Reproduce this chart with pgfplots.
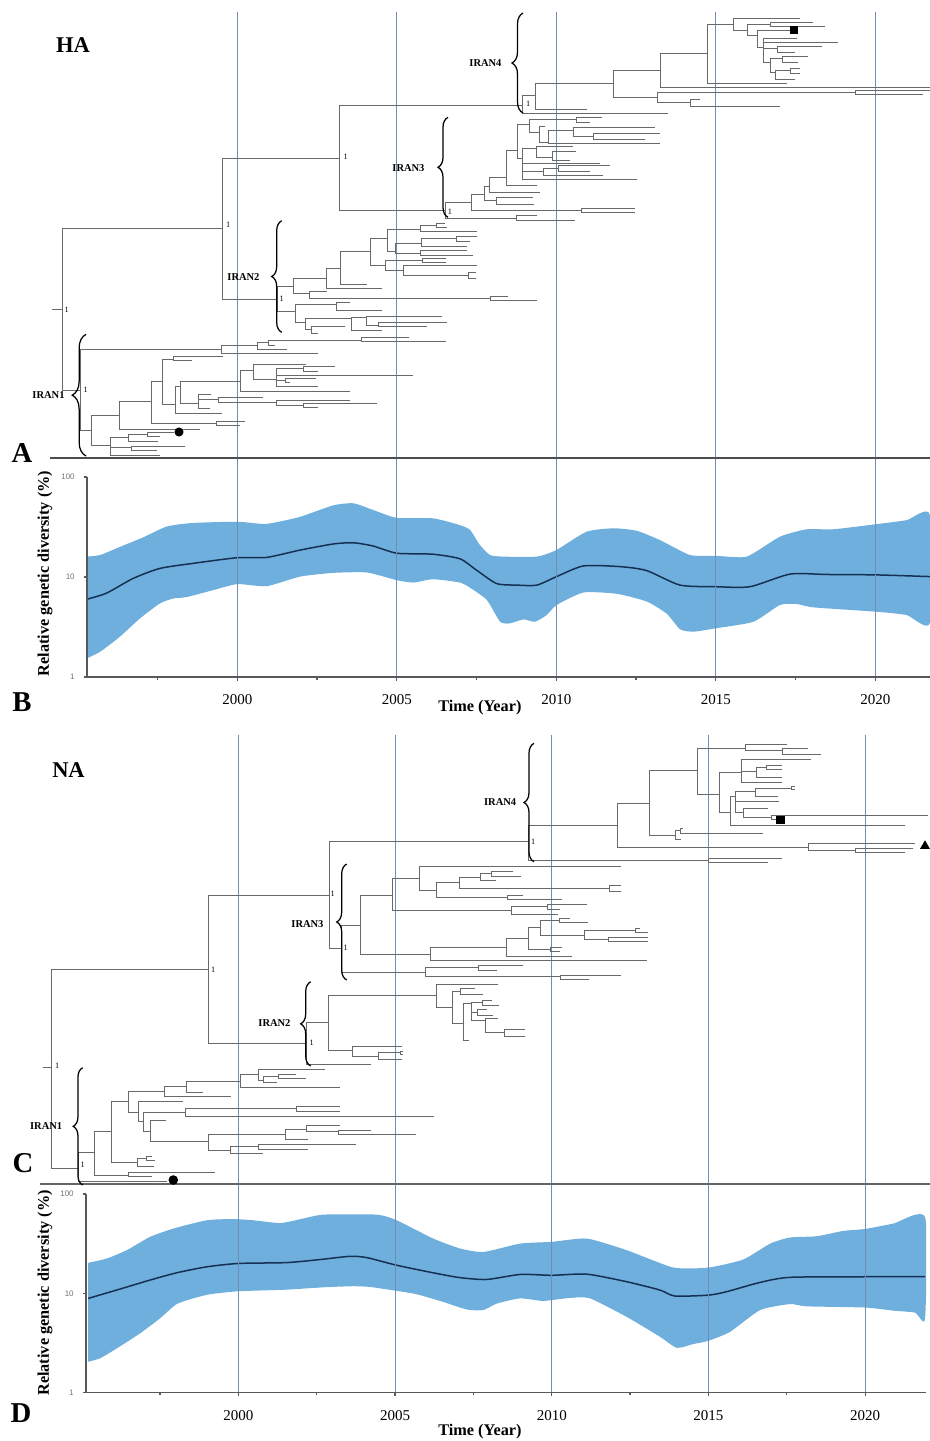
\documentclass[border=0pt]{standalone}
\usepackage{fontspec}
\setmainfont{Liberation Serif}
\newfontfamily\lsans{Liberation Sans}
\usepackage{pgfplots}
\pgfplotsset{compat=1.18}
\usetikzlibrary{decorations.pathreplacing}
\definecolor{gridc}{RGB}{112,142,180}
\definecolor{bandc}{RGB}{111,175,221}
\definecolor{meanc}{RGB}{22,48,84}
\definecolor{treec}{RGB}{105,105,105}
\newcommand{\fs}[1]{\fontsize{#1pt}{#1pt}\selectfont}
\tikzset{tr/.style={draw=treec, line width=0.3pt, mark=none},
  vg/.style={draw=gridc, line width=0.42pt, mark=none},
  br/.style={decorate, decoration={brace, amplitude=#1}, line width=0.5pt, draw=black},
  lab/.style={font=\bfseries\fs{4.2}, anchor=east, inner sep=0pt},
  one/.style={font=\fs{3.3}, inner sep=0pt},
  pan/.style={font=\bfseries\fs{11.5}, inner sep=0pt}}
\begin{document}
\begin{tikzpicture}
\path[use as bounding box] (0,0) rectangle (372pt,-576.4pt);

% ===================== TREE A =====================
\begin{axis}[at={(186pt,-92pt)}, anchor=center, scale only axis, width=372pt, height=184pt,
  xmin=0, xmax=930, ymin=0, ymax=460, y dir=reverse, hide axis, clip=false, unbounded coords=jump]
\addplot[vg] coordinates {(237.3,12)(237.3,477) (nan,nan) (396.8,12)(396.8,477) (nan,nan) (556.3,12)(556.3,477) (nan,nan) (715.8,12)(715.8,477) (nan,nan) (875.3,12)(875.3,477)};
\addplot[draw=black!70, line width=0.5pt, mark=none] coordinates {(50,458)(930,458)};
% backbone
\addplot[tr] coordinates {
(52,309)(62,309) (nan,nan)
(222,228)(62,228)(62,390)(80.7,390) (nan,nan)
(339,158)(222,158)(222,299)(277.3,299) (nan,nan)
(522,105)(339,105)(339,210)(445,210)
};
% IRAN4
\addplot[tr] coordinates {
(535,95)(522,95)(522,113)(668,113) (nan,nan)
(613,83)(535,83)(535,109)(587,109) (nan,nan)
(660,70)(613,70)(613,97)(657,97) (nan,nan)
(707,53)(660,53)(660,87)(930,87) (nan,nan)
(855,92)(657,92)(657,102)(690,102) (nan,nan)
(930,90)(855,90)(855,94)(923,94) (nan,nan)
(700,99)(690,99)(690,106)(780,106) (nan,nan)
(733,24)(707,24)(707,83)(787,83) (nan,nan)
(800,18)(733,18)(733,30)(747,30) (nan,nan)
(770,24)(747,24)(747,35)(757,35) (nan,nan)
(813,22)(770,22)(770,26)(825,26) (nan,nan)
(793,30)(757,30)(757,47)(763,47) (nan,nan)
(797,38)(763,38)(763,62)(770,62) (nan,nan)
(763,42)(838,42) (nan,nan)
(763,48)(777,48) (nan,nan)
(822,46)(777,46)(777,52)(795,52) (nan,nan)
(782,58)(770,58)(770,72)(775,72) (nan,nan)
(808,56)(782,56)(782,62)(798,62) (nan,nan)
(790,70)(775,70)(775,79)(795,79) (nan,nan)
(800,68)(790,68)(790,73)(800,73)
};
% IRAN3
\addplot[tr] coordinates {
(471.7,202)(445,202)(445,218.3)(516.7,218.3) (nan,nan)
(536.7,215)(516.7,215)(516.7,220)(575,220) (nan,nan)
(484,194)(471.7,194)(471.7,210)(581.7,210) (nan,nan)
(635,208)(581.7,208)(581.7,212.3)(635,212.3) (nan,nan)
(489.3,186)(484,186)(484,200)(496.7,200) (nan,nan)
(533,197)(496.7,197)(496.7,204)(534,204) (nan,nan)
(506,177)(489.3,177)(489.3,192.7)(540,192.7) (nan,nan)
(517,150)(506,150)(506,185)(536.7,185) (nan,nan)
(529.3,124)(517,124)(517,158)(522,158) (nan,nan)
(576,119)(529.3,119)(529.3,132)(539.3,132) (nan,nan)
(601.7,117)(576,117)(576,122)(590,122) (nan,nan)
(545,126)(539.3,126)(539.3,142)(548.3,142) (nan,nan)
(573,130)(548.3,130)(548.3,143.5)(660,143.5) (nan,nan)
(655,127)(573,127)(573,136)(593,136) (nan,nan)
(660,133.5)(593,133.5)(593,139)(645,139) (nan,nan)
(536.7,148)(522,148)(522,179)(636.7,179) (nan,nan)
(522,163)(600,163) (nan,nan)
(522,171)(543,171) (nan,nan)
(558,168)(543,168)(543,175)(603,175) (nan,nan)
(610,165.5)(558,165.5)(558,171)(590,171) (nan,nan)
(573,146)(536.7,146)(536.7,157)(552.7,157) (nan,nan)
(576,151)(552.7,151)(552.7,160)(570,160)
};
% IRAN2
\addplot[tr] coordinates {
(293.3,286.7)(277.3,286.7)(277.3,311.7)(295,311.7) (nan,nan)
(326,278.3)(293.3,278.3)(293.3,293.3)(309.3,293.3) (nan,nan)
(340,268.3)(326,268.3)(326,288.3)(381.7,288.3) (nan,nan)
(370.7,251.7)(340,251.7)(340,284)(366.7,284) (nan,nan)
(387.3,238.3)(370.7,238.3)(370.7,265)(385,265) (nan,nan)
(420,229)(387.3,229)(387.3,251.7)(395,251.7) (nan,nan)
(436,225)(420,225)(420,231.7)(476.7,231.7) (nan,nan)
(445,223)(436,223)(436,227)(447,227) (nan,nan)
(421.7,243.3)(395,243.3)(395,253.3)(420,253.3) (nan,nan)
(456.7,238)(421.7,238)(421.7,246.7)(466.7,246.7) (nan,nan)
(476.7,236)(456.7,236)(456.7,241)(470,241) (nan,nan)
(466.7,250)(420,250)(420,255)(473,255) (nan,nan)
(422.7,260)(385,260)(385,270)(403.3,270) (nan,nan)
(446,258)(422.7,258)(422.7,262.5)(446,262.5) (nan,nan)
(476.7,265.3)(403.3,265.3)(403.3,275)(468,275) (nan,nan)
(476,272)(468,272)(468,278)(476,278) (nan,nan)
(326.7,291.7)(309.3,291.7)(309.3,298.3)(490,298.3) (nan,nan)
(508,296)(490,296)(490,300.5)(536.7,300.5) (nan,nan)
(336.7,304)(295,304)(295,322)(305,322) (nan,nan)
(350,302.5)(336.7,302.5)(336.7,310.7)(381.7,310.7) (nan,nan)
(351.7,318)(305,318)(305,329)(311.7,329) (nan,nan)
(345,326)(311.7,326)(311.7,333.3)(318.3,333.3) (nan,nan)
(366.7,317)(351.7,317)(351.7,330)(381.7,330) (nan,nan)
(441.7,316.7)(366.7,316.7)(366.7,325)(378.3,325) (nan,nan)
(446.7,322.3)(378.3,322.3)(378.3,326)(426.7,326)
};
% IRAN1
\addplot[tr] coordinates {
(221.7,349)(80.7,349)(80.7,430)(91.7,430) (nan,nan)
(257.3,345)(221.7,345)(221.7,353.3)(318.3,353.3) (nan,nan)
(268.3,342.7)(257.3,342.7)(257.3,349.3)(286.7,349.3) (nan,nan)
(361.7,340)(268.3,340)(268.3,345)(275,345) (nan,nan)
(409.3,337.3)(361.7,337.3)(361.7,341.7)(446,341.7) (nan,nan)
(119.3,415)(91.7,415)(91.7,445)(110,445) (nan,nan)
(151.7,401.7)(119.3,401.7)(119.3,429)(200,429) (nan,nan)
(162.3,381.7)(151.7,381.7)(151.7,423.3)(216.7,423.3) (nan,nan)
(245,421)(216.7,421)(216.7,425.5)(240,425.5) (nan,nan)
(173.3,359.3)(162.3,359.3)(162.3,404)(175,404) (nan,nan)
(222.7,356.2)(173.3,356.2)(173.3,360.8)(191.7,360.8) (nan,nan)
(180,386)(175,386)(175,413.3)(221.7,413.3) (nan,nan)
(240,381.7)(180,381.7)(180,403.3)(198.3,403.3) (nan,nan)
(253.3,370.7)(240,370.7)(240,391.7)(350,391.7) (nan,nan)
(306,364.3)(253.3,364.3)(253.3,379)(276.7,379) (nan,nan)
(303,368.3)(276.7,368.3)(276.7,386.7)(318.3,386.7) (nan,nan)
(276.7,375.7)(413.3,375.7) (nan,nan)
(276.7,380.5)(285,380.5) (nan,nan)
(335,366)(303,366)(303,371)(318,371) (nan,nan)
(316,378.7)(285,378.7)(285,382.7)(290,382.7) (nan,nan)
(211,394)(198.3,394)(198.3,408.3)(210,408.3) (nan,nan)
(218.3,399)(198.3,399) (nan,nan)
(263.3,397)(218.3,397)(218.3,402)(276.7,402) (nan,nan)
(350,400)(276.7,400)(276.7,405)(303.3,405) (nan,nan)
(377.3,403)(303.3,403)(303.3,407.5)(318.3,407.5) (nan,nan)
(128.3,437)(110,437)(110,455)(160,455) (nan,nan)
(147,434)(128.3,434)(128.3,441)(158,441) (nan,nan)
(174,432)(147,432)(147,436)(160,436) (nan,nan)
(110,447)(131.7,447) (nan,nan)
(185,446.5)(131.7,446.5)(131.7,450.5)(156.7,450.5)
};
\addplot[only marks, mark=*, mark size=1.6pt, black] coordinates {(179,432)};
\addplot[only marks, mark=square*, mark size=1.3pt, black] coordinates {(794,30)};
\draw[br=4.4pt] (axis cs:523,113) -- (axis cs:523,13);
\draw[br=4pt] (axis cs:448,217.3) -- (axis cs:448,117.3);
\draw[br=4pt] (axis cs:281.7,332.3) -- (axis cs:281.7,220.7);
\draw[br=5.5pt] (axis cs:86,456) -- (axis cs:86,334.3);
\node[lab] at (axis cs:502,63) {IRAN4};
\node[lab] at (axis cs:425,168) {IRAN3};
\node[lab] at (axis cs:260,277) {IRAN2};
\node[lab] at (axis cs:65,395) {IRAN1};
\node[one] at (axis cs:66.7,310) {1};
\node[one] at (axis cs:228.3,225) {1};
\node[one] at (axis cs:345.7,156.7) {1};
\node[one] at (axis cs:450,211.7) {1};
\node[one] at (axis cs:528.3,104) {1};
\node[one] at (axis cs:281.7,299) {1};
\node[one] at (axis cs:85.7,390) {1};
\node[font=\bfseries\fs{9}, inner sep=0pt] at (axis cs:73,45) {HA};
\node[pan] at (axis cs:22,453) {A};
\node[pan] at (axis cs:22,702) {B};
\end{axis}

% ===================== SKYLINE B =====================
\begin{axis}[at={(203.4pt,-230.8pt)}, anchor=center, width=337.2pt, height=80pt,
  scale only axis, ymode=log, ymin=1, ymax=100,
  xmin=1995.288, xmax=2021.715,
  axis x line*=bottom, axis y line*=left, axis line style={black!65, line width=0.6pt},
  xtick={2000,2005,2010,2015,2020}, xticklabels={2000,2005,2010,2015,2020},
  minor xtick={1997.5,2002.5,2007.5,2012.5,2017.5},
  ytick={1,10,100}, yticklabels={1,10,100}, yminorticks=false,
  xmajorgrids, major grid style={draw=gridc, line width=0.42pt},
  tick style={black!65, line width=0.5pt}, major tick length=1.4pt, minor tick length=1.1pt,
  tick align=outside, axis on top,
  xticklabel style={font=\fs{6}, yshift=-2.2pt},
  yticklabel style={font=\lsans\fs{3.2}, text=black!55},
  xlabel={Time (Year)}, ylabel={Relative genetic diversity (\%)},
  xlabel style={font=\bfseries\fs{6.5}, at={(axis description cs:0.466,0)}, anchor=center, yshift=-12.2pt},
  ylabel style={font=\bfseries\fs{6.5}, at={(axis description cs:-0.0498,0.5175)}, anchor=center}]
\addplot[fill=bandc, draw=none, mark=none, smooth, tension=0.35] coordinates {
(1995.29,16.0)(1995.7,16.6)(1996.32,20)(1997.06,25)(1997.79,32)(1998.6,34.7)(2000.0,35.7)
(2000.92,34)(2001.97,40)(2003.0,52)(2003.64,54.6)(2004.26,46.8)(2005.0,39)(2006.14,38.6)
(2006.98,33)(2007.3,29.5)(2007.6,21)(2007.92,16.6)(2008.34,16)(2009.39,16)(2010.0,18.6)
(2010.95,28.4)(2011.79,30.7)(2012.52,29)(2013.25,23.4)(2014.19,16.6)(2015.0,16.3)
(2015.97,16)(2017.01,25.3)(2017.85,30)(2018.68,30)(2020.02,33.7)(2020.98,37)(2021.715,41.7)
(2021.715,3.5)(2020.98,4.17)(2020.02,4.5)(2018.06,4.97)(2017.54,5.37)(2017.01,5.25)(2016.18,3.57)
(2015.0,3.07)(2014.3,2.84)(2013.88,3.0)(2013.46,4.3)(2012.83,5.7)(2011.89,6.8)(2010.85,7.0)
(2010.01,5.25)(2009.7,4.17)(2009.33,3.57)(2008.97,3.77)(2008.55,3.44)(2008.24,3.57)(2007.82,5.9)
(2007.3,7.8)(2006.98,8.8)(2006.14,9.5)(2005.52,8.8)(2005.0,9.3)(2004.06,11.1)(2003.01,11.0)
(2001.97,10.1)(2000.92,8.1)(2000.0,8.5)(1999.25,7.4)(1998.41,6.3)(1998.0,6.1)(1997.58,5.46)
(1996.95,3.86)(1996.32,2.53)(1995.7,1.79)(1995.29,1.54)};
\addplot[meanc, line width=0.6pt, mark=none, smooth, tension=0.4] coordinates {
(1995.29,6.0)(1995.9,6.9)(1996.74,9.7)(1997.58,12.2)(1998.62,13.7)(2000.0,15.6)(2000.92,15.7)
(2001.97,18.6)(2003.01,21.4)(2003.64,22)(2004.26,20.4)(2005.0,17.3)(2006.14,16.9)(2006.98,15.2)
(2007.5,11.7)(2008.13,8.6)(2008.76,8.3)(2009.39,8.3)(2010.01,10.1)(2010.85,12.9)(2012.0,12.7)
(2012.83,11.6)(2013.88,8.3)(2015.0,8.0)(2016.07,8.0)(2017.33,10.7)(2018.48,10.6)(2020.02,10.5)
(2021.715,10.1)};
\end{axis}

% ===================== TREE C =====================
\begin{axis}[at={(186pt,-378pt)}, anchor=center, scale only axis, width=372pt, height=196pt,
  xmin=0, xmax=930, ymin=700, ymax=1190, y dir=reverse, hide axis, clip=false, unbounded coords=jump]
\addplot[vg] coordinates {(238.3,735)(238.3,1194) (nan,nan) (395.6,735)(395.6,1194) (nan,nan) (551.7,735)(551.7,1194) (nan,nan) (708.4,735)(708.4,1194) (nan,nan) (865.1,735)(865.1,1194)};
\addplot[draw=black!60, line width=0.5pt, mark=none] coordinates {(40,1184)(930,1184)};
% backbone
\addplot[tr] coordinates {
(42.7,1067.7)(51.7,1067.7) (nan,nan)
(208.3,969.3)(51.7,969.3)(51.7,1168.3)(78.3,1168.3) (nan,nan)
(329.3,895)(208.3,895)(208.3,1043.3)(306.7,1043.3) (nan,nan)
(528.3,841.7)(329.3,841.7)(329.3,948.3)(341.7,948.3)
};
% IRAN4
\addplot[tr] coordinates {
(617.7,825)(528.3,825)(528.3,860)(708.3,860) (nan,nan)
(781.7,858)(708.3,858)(708.3,862)(768.3,862) (nan,nan)
(649.3,803.3)(617.7,803.3)(617.7,847.3)(808.3,847.3) (nan,nan)
(915,843.3)(808.3,843.3)(808.3,850.7)(855,850.7) (nan,nan)
(913.3,848.5)(855,848.5)(855,852.5)(905,852.5) (nan,nan)
(697.3,770.7)(649.3,770.7)(649.3,835)(675,835) (nan,nan)
(680,830)(675,830)(675,839.3)(681,839.3) (nan,nan)
(683,828.5)(680,828.5)(680,833)(762.7,833) (nan,nan)
(745,748.3)(697.3,748.3)(697.3,794)(719.3,794) (nan,nan)
(786.7,744)(745,744)(745,750.7)(782.7,750.7) (nan,nan)
(808.3,748)(782.7,748)(782.7,754)(821,754) (nan,nan)
(741.7,772.7)(719.3,772.7)(719.3,812.7)(730.7,812.7) (nan,nan)
(810.7,759.3)(741.7,759.3)(741.7,782.7)(781.7,782.7) (nan,nan)
(741.7,771)(756.7,771) (nan,nan)
(766,767)(756.7,767)(756.7,777)(781.7,777) (nan,nan)
(781.7,765)(766,765)(766,769.5)(781.7,769.5) (nan,nan)
(735,796.7)(730.7,796.7)(730.7,825)(905,825) (nan,nan)
(755,791.7)(735,791.7)(735,812)(743.3,812) (nan,nan)
(791.7,788)(755,788)(755,796)(778.3,796) (nan,nan)
(795,786.5)(791.7,786.5)(791.7,789.5)(795,789.5) (nan,nan)
(735,801.5)(779.3,801.5) (nan,nan)
(768.3,808)(743.3,808)(743.3,817)(771.7,817) (nan,nan)
(928.3,815)(771.7,815)(771.7,819)(776,819)
};
% IRAN3
\addplot[tr] coordinates {
(360.7,925)(341.7,925)(341.7,972.7)(425,972.7) (nan,nan)
(478.3,967.7)(425,967.7)(425,976.7)(560.7,976.7) (nan,nan)
(523.3,965.7)(478.3,965.7)(478.3,970)(496.7,970) (nan,nan)
(620.7,975)(560.7,975)(560.7,979)(589.3,979) (nan,nan)
(392.3,895)(360.7,895)(360.7,954)(430,954) (nan,nan)
(419,878.3)(392.3,878.3)(392.3,910)(511.7,910) (nan,nan)
(620.7,866.7)(419,866.7)(419,890)(436.7,890) (nan,nan)
(459.3,882.3)(436.7,882.3)(436.7,897.3)(507.3,897.3) (nan,nan)
(480.7,877.7)(459.3,877.7)(459.3,888.3)(609.3,888.3) (nan,nan)
(491.7,873.3)(480.7,873.3)(480.7,880.7)(496,880.7) (nan,nan)
(513.3,871.3)(491.7,871.3)(491.7,876)(520.7,876) (nan,nan)
(620.7,885.5)(609.3,885.5)(609.3,891)(620.7,891) (nan,nan)
(523.3,895)(507.3,895)(507.3,899.5)(561.7,899.5) (nan,nan)
(547.3,906.7)(511.7,906.7)(511.7,914)(558.3,914) (nan,nan)
(586.7,904)(547.3,904)(547.3,909)(560,909) (nan,nan)
(506,947.3)(430,947.3)(430,960.7)(646.7,960.7) (nan,nan)
(528.3,938.3)(506,938.3)(506,956)(572.3,956) (nan,nan)
(540.7,927.3)(528.3,927.3)(528.3,949)(550.7,949) (nan,nan)
(561.7,947)(550.7,947)(550.7,951)(560,951) (nan,nan)
(559.3,920)(540.7,920)(540.7,935)(584,935) (nan,nan)
(570,918)(559.3,918)(559.3,922)(588.3,922) (nan,nan)
(635,930)(584,930)(584,939.3)(608.3,939.3) (nan,nan)
(640,928)(635,928)(635,932)(648.3,932) (nan,nan)
(648.3,937)(608.3,937)(608.3,941)(648.3,941)
};
% IRAN2
\addplot[tr] coordinates {
(328.3,1022.7)(306.7,1022.7)(306.7,1064)(370.7,1064) (nan,nan)
(436,995.7)(328.3,995.7)(328.3,1050.7)(352.7,1050.7) (nan,nan)
(498.3,984.3)(436,984.3)(436,1007.3)(452.3,1007.3) (nan,nan)
(460.7,991)(452.3,991)(452.3,1023.3)(463.3,1023.3) (nan,nan)
(475,988)(460.7,988)(460.7,994)(482.7,994) (nan,nan)
(471.7,1003)(463.3,1003)(463.3,1040.7)(469.3,1040.7) (nan,nan)
(482.3,1002.7)(471.7,1002.7)(471.7,1020)(485,1020) (nan,nan)
(491.7,1000)(482.3,1000)(482.3,1005)(499.3,1005) (nan,nan)
(471.7,1012)(477.3,1012) (nan,nan)
(486.7,1009.5)(477.3,1009.5)(477.3,1015)(493,1015) (nan,nan)
(498,1018)(485,1018)(485,1032.7)(504,1032.7) (nan,nan)
(525,1029)(504,1029)(504,1036)(525,1036) (nan,nan)
(402.3,1046)(352.7,1046)(352.7,1056)(378.3,1056) (nan,nan)
(400,1052.7)(378.3,1052.7)(378.3,1059)(402.3,1059) (nan,nan)
(403,1051)(400,1051)(400,1054.5)(403,1054.5)
};
% IRAN1
\addplot[tr] coordinates {
(94,1152.7)(78.3,1152.7)(78.3,1181.7)(166.7,1181.7) (nan,nan)
(111,1131.7)(94,1131.7)(94,1175)(128.3,1175) (nan,nan)
(215,1172.3)(128.3,1172.3)(128.3,1176.7)(151.7,1176.7) (nan,nan)
(128.3,1101.7)(111,1101.7)(111,1162.3)(137.3,1162.3) (nan,nan)
(146.7,1158.3)(137.3,1158.3)(137.3,1166.7)(154,1166.7) (nan,nan)
(151.7,1156.5)(146.7,1156.5)(146.7,1160)(155,1160) (nan,nan)
(164,1091.7)(128.3,1091.7)(128.3,1112.3)(138.3,1112.3) (nan,nan)
(186,1086.7)(164,1086.7)(164,1096.7)(231,1096.7) (nan,nan)
(240,1081.7)(186,1081.7)(186,1092.7)(203.3,1092.7) (nan,nan)
(258.3,1074.3)(240,1074.3)(240,1087.3)(340,1087.3) (nan,nan)
(325,1069)(258.3,1069)(258.3,1080.7)(263.3,1080.7) (nan,nan)
(278.3,1076.7)(263.3,1076.7)(263.3,1082.7)(277.3,1082.7) (nan,nan)
(296,1074)(278.3,1074)(278.3,1078.7)(306,1078.7) (nan,nan)
(182.7,1101.7)(138.3,1101.7)(138.3,1121.7)(143.3,1121.7) (nan,nan)
(185,1112.7)(143.3,1112.7)(143.3,1131.7)(150.7,1131.7) (nan,nan)
(296.7,1108.3)(185,1108.3)(185,1116)(434,1116) (nan,nan)
(340,1106)(296.7,1106)(296.7,1111)(340,1111) (nan,nan)
(165.7,1120.7)(150.7,1120.7)(150.7,1141.7)(208.3,1141.7) (nan,nan)
(285,1134.3)(208.3,1134.3)(208.3,1150)(230,1150) (nan,nan)
(306,1129)(285,1129)(285,1139)(308.3,1139) (nan,nan)
(340,1125)(306,1125)(306,1131.7)(338.3,1131.7) (nan,nan)
(370.7,1130)(338.3,1130)(338.3,1134)(416,1134) (nan,nan)
(258.3,1146.7)(230,1146.7)(230,1153.3)(263.3,1153.3) (nan,nan)
(356,1144)(258.3,1144)(258.3,1149)(308.3,1149)
};
\addplot[only marks, mark=*, mark size=1.7pt, black] coordinates {(173.3,1180)};
\addplot[only marks, mark=square*, mark size=1.5pt, black] coordinates {(780.7,820)};
\addplot[only marks, mark=triangle*, mark size=1.9pt, black] coordinates {(925,846)};
\draw[br=4pt] (axis cs:534,861.7) -- (axis cs:534,743.3);
\draw[br=4pt] (axis cs:346.7,980) -- (axis cs:346.7,864);
\draw[br=4pt] (axis cs:310.7,1066) -- (axis cs:310.7,981.7);
\draw[br=3.8pt] (axis cs:82.7,1185) -- (axis cs:82.7,1067.7);
\node[lab] at (axis cs:516.7,801.7) {IRAN4};
\node[lab] at (axis cs:324,924) {IRAN3};
\node[lab] at (axis cs:291,1023.3) {IRAN2};
\node[lab] at (axis cs:62.7,1125.7) {IRAN1};
\node[one] at (axis cs:57.3,1066) {1};
\node[one] at (axis cs:213.3,970) {1};
\node[one] at (axis cs:332.7,893.3) {1};
\node[one] at (axis cs:345.7,947.7) {1};
\node[one] at (axis cs:533.3,841.7) {1};
\node[one] at (axis cs:311.7,1042.3) {1};
\node[one] at (axis cs:82.7,1165) {1};
\node[font=\bfseries\fs{9}, inner sep=0pt] at (axis cs:68.5,770) {NA};
\node[pan] at (axis cs:23,1163) {C};
\node[pan] at (axis cs:21,1413) {D};
\end{axis}

% ===================== SKYLINE D =====================
\begin{axis}[at={(202.4pt,-517.34pt)}, anchor=center, width=336pt, height=79.48pt,
  scale only axis, ymode=log, ymin=1, ymax=100,
  xmin=1995.14, xmax=2021.94,
  axis x line*=bottom, axis y line*=left, axis line style={black!65, line width=0.6pt},
  xtick={2000,2005,2010,2015,2020}, xticklabels={2000,2005,2010,2015,2020},
  minor xtick={1997.5,2002.5,2007.5,2012.5,2017.5},
  ytick={1,10,100}, yticklabels={1,10,100}, yminorticks=false,
  xmajorgrids, major grid style={draw=gridc, line width=0.42pt},
  tick style={black!65, line width=0.5pt}, major tick length=1.4pt, minor tick length=1.1pt,
  tick align=outside, axis on top,
  xticklabel style={font=\fs{6}, yshift=-2.2pt},
  yticklabel style={font=\lsans\fs{3.2}, text=black!55},
  xlabel={Time (Year)}, ylabel={Relative genetic diversity (\%)},
  xlabel style={font=\bfseries\fs{6.5}, at={(axis description cs:0.469,0)}, anchor=center, yshift=-15.7pt},
  ylabel style={font=\bfseries\fs{6.5}, at={(axis description cs:-0.0488,0.502)}, anchor=center}]
\addplot[fill=bandc, draw=none, mark=none, smooth, tension=0.35] coordinates {
(1995.21,20.3)(1995.8,22.4)(1996.44,27.2)(1997.18,37)(1997.93,44.9)(1998.99,54.4)(1999.84,56)
(2000.48,54.4)(2001.33,51)(2001.97,55.7)(2002.71,62)(2004.42,62)(2005.05,54.4)(2006.22,35.6)
(2007.07,28.3)(2007.82,26.1)(2008.99,31.7)(2010.0,33)(2011.12,35.6)(2012.39,27.2)(2013.88,18.2)
(2015.0,18.2)(2016.11,21.9)(2016.97,31.7)(2017.6,36.5)(2018.46,37.6)(2019.3,42.5)(2020.0,44.5)
(2020.9,50.4)(2021.91,58.7)
(2021.91,5.6)(2021.59,6.4)(2020.9,6.7)(2020.0,7.2)(2018.14,7.4)(2017.6,7.8)(2016.65,6.8)
(2015.69,4.1)(2015.0,3.33)(2014.52,3.09)(2013.99,2.83)(2013.45,3.66)(2012.39,5.8)(2011.22,8.9)
(2010.58,9.0)(2009.73,8.4)(2008.99,8.9)(2008.25,7.9)(2007.82,6.8)(2007.39,6.8)(2007.07,7.2)
(2006.54,8.2)(2005.69,9.8)(2005.05,10.6)(2004.2,11.6)(2003.67,11.8)(2002.71,11.5)(2001.54,10.9)
(2000.0,10.5)(1999.1,9.8)(1998.56,8.9)(1998.03,7.8)(1997.5,5.6)(1996.86,3.95)(1996.12,2.79)
(1995.59,2.22)(1995.21,2.05)};
\addplot[meanc, line width=0.6pt, mark=none, smooth, tension=0.4] coordinates {
(1995.21,8.9)(1996.12,10.8)(1997.18,13.6)(1998.03,16.1)(1998.99,18.5)(2000.0,20)(2001.54,20.4)
(2002.61,21.9)(2003.56,23.6)(2004.1,22.9)(2005.05,19.2)(2006.22,16.1)(2007.07,14.4)(2007.93,13.8)
(2008.99,15.5)(2010.0,15.2)(2011.12,15.6)(2012.39,13.1)(2013.45,10.8)(2013.93,9.4)(2015.0,9.6)
(2015.58,10.4)(2016.65,12.9)(2017.6,14.5)(2020.0,14.7)(2021.91,14.7)};
\end{axis}
\end{tikzpicture}
\end{document}
